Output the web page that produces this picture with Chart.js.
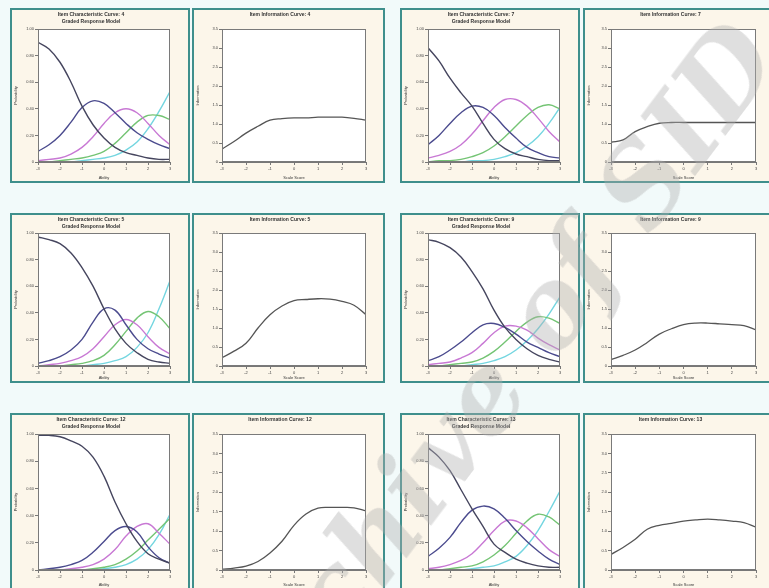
<!DOCTYPE html>
<html>
<head>
<meta charset="utf-8">
<script src="https://cdn.jsdelivr.net/npm/chart.js@4/dist/chart.umd.min.js"></script>
<style>
  body { margin: 0; width: 769px; height: 588px; overflow: hidden; background: #f2fafa; position: relative; font-family: "Liberation Sans", sans-serif; }
  .panel { position: absolute; box-sizing: border-box; border: 2px solid #3f8f8c; background: #fcf6ea; }
  .panel canvas { position: absolute; left: 0; top: 0; }
  #mark { position: absolute; left: 490px; top: 385px; transform: translate(-50%, -50%) rotate(-53deg); font: italic bold 108px "DejaVu Serif", serif; color: rgba(175, 175, 175, 0.4); white-space: nowrap; pointer-events: none; }
</style>
</head>
<body>
<div id="mark">Archive of SID</div>
<script>
// theta grid shared by every panel
const ability = [-3, -2.5, -2, -1.5, -1, -0.5, 0, 0.5, 1, 1.5, 2, 2.5, 3];
const abilityTicks = [-3, -2, -1, 0, 1, 2, 3];
const probTicks = [0, 0.2, 0.4, 0.6, 0.8, 1.0];
const infoTicks = [0, 0.5, 1, 1.5, 2, 2.5, 3, 3.5];

const categoryNames = ["1", "2", "3", "4", "5"];
const categoryColors = ["#45455e", "#4b4b8e", "#c878d4", "#74c474", "#74d6e0"];

// category response curves (5 categories each)
const icc4 = [
  [0.90, 0.85, 0.75, 0.60, 0.42, 0.28, 0.18, 0.11, 0.07, 0.05, 0.03, 0.02, 0.02],
  [0.08, 0.13, 0.20, 0.30, 0.41, 0.46, 0.44, 0.37, 0.29, 0.22, 0.17, 0.13, 0.10],
  [0.01, 0.02, 0.03, 0.06, 0.11, 0.19, 0.29, 0.37, 0.40, 0.37, 0.29, 0.20, 0.13],
  [0.00, 0.00, 0.01, 0.02, 0.03, 0.05, 0.08, 0.14, 0.22, 0.30, 0.35, 0.35, 0.32],
  [0.00, 0.00, 0.00, 0.00, 0.01, 0.02, 0.03, 0.05, 0.09, 0.15, 0.25, 0.38, 0.53]
];
const icc7 = [
  [0.86, 0.76, 0.63, 0.52, 0.42, 0.29, 0.17, 0.10, 0.06, 0.04, 0.02, 0.01, 0.01],
  [0.13, 0.20, 0.29, 0.37, 0.42, 0.41, 0.35, 0.26, 0.18, 0.11, 0.07, 0.04, 0.03],
  [0.03, 0.05, 0.08, 0.13, 0.21, 0.31, 0.41, 0.47, 0.47, 0.42, 0.33, 0.23, 0.15],
  [0.00, 0.01, 0.01, 0.02, 0.04, 0.07, 0.12, 0.19, 0.27, 0.35, 0.41, 0.43, 0.40],
  [0.00, 0.00, 0.00, 0.00, 0.01, 0.01, 0.02, 0.04, 0.07, 0.12, 0.19, 0.29, 0.41]
];
const icc5 = [
  [0.97, 0.95, 0.92, 0.85, 0.74, 0.60, 0.43, 0.28, 0.17, 0.10, 0.05, 0.03, 0.02],
  [0.02, 0.04, 0.07, 0.12, 0.20, 0.33, 0.43, 0.42, 0.31, 0.20, 0.13, 0.09, 0.06],
  [0.00, 0.01, 0.02, 0.04, 0.07, 0.13, 0.22, 0.31, 0.35, 0.31, 0.22, 0.14, 0.09],
  [0.00, 0.00, 0.00, 0.01, 0.02, 0.04, 0.08, 0.16, 0.26, 0.36, 0.41, 0.37, 0.28],
  [0.00, 0.00, 0.00, 0.00, 0.00, 0.01, 0.02, 0.04, 0.07, 0.14, 0.25, 0.43, 0.64]
];
const icc9 = [
  [0.95, 0.93, 0.89, 0.82, 0.71, 0.58, 0.42, 0.29, 0.20, 0.13, 0.08, 0.05, 0.03],
  [0.04, 0.07, 0.12, 0.18, 0.25, 0.31, 0.32, 0.29, 0.24, 0.18, 0.14, 0.10, 0.07],
  [0.01, 0.02, 0.03, 0.06, 0.10, 0.17, 0.25, 0.30, 0.30, 0.27, 0.21, 0.16, 0.12],
  [0.00, 0.00, 0.01, 0.02, 0.03, 0.06, 0.11, 0.18, 0.26, 0.33, 0.37, 0.36, 0.32],
  [0.00, 0.00, 0.00, 0.00, 0.01, 0.02, 0.04, 0.07, 0.12, 0.19, 0.28, 0.39, 0.52]
];
const icc12 = [
  [0.99, 0.99, 0.98, 0.95, 0.91, 0.83, 0.69, 0.50, 0.34, 0.21, 0.12, 0.08, 0.05],
  [0.00, 0.01, 0.02, 0.04, 0.07, 0.13, 0.21, 0.29, 0.32, 0.28, 0.17, 0.09, 0.05],
  [0.00, 0.00, 0.00, 0.01, 0.02, 0.04, 0.08, 0.15, 0.25, 0.32, 0.34, 0.27, 0.19],
  [0.00, 0.00, 0.00, 0.00, 0.00, 0.01, 0.02, 0.04, 0.08, 0.14, 0.22, 0.30, 0.38],
  [0.00, 0.00, 0.00, 0.00, 0.00, 0.00, 0.01, 0.02, 0.04, 0.08, 0.15, 0.26, 0.41]
];
const icc13 = [
  [0.90, 0.83, 0.73, 0.59, 0.45, 0.32, 0.19, 0.13, 0.08, 0.05, 0.03, 0.02, 0.02],
  [0.10, 0.16, 0.24, 0.35, 0.44, 0.47, 0.45, 0.38, 0.29, 0.21, 0.14, 0.08, 0.04],
  [0.01, 0.02, 0.04, 0.07, 0.12, 0.20, 0.29, 0.36, 0.36, 0.31, 0.23, 0.15, 0.10],
  [0.00, 0.00, 0.01, 0.02, 0.03, 0.06, 0.11, 0.18, 0.27, 0.36, 0.41, 0.39, 0.33],
  [0.00, 0.00, 0.00, 0.00, 0.01, 0.02, 0.03, 0.06, 0.10, 0.18, 0.29, 0.43, 0.58]
];

// item information
const info4 = [0.34, 0.54, 0.76, 0.94, 1.10, 1.14, 1.16, 1.16, 1.18, 1.18, 1.18, 1.15, 1.10];
const info7 = [0.52, 0.58, 0.80, 0.93, 1.02, 1.04, 1.04, 1.04, 1.04, 1.04, 1.04, 1.04, 1.04];
const info5 = [0.22, 0.39, 0.60, 1.00, 1.35, 1.58, 1.72, 1.75, 1.77, 1.76, 1.70, 1.60, 1.35];
const info9 = [0.17, 0.28, 0.42, 0.62, 0.84, 0.98, 1.09, 1.13, 1.13, 1.11, 1.09, 1.06, 0.95];
const info12 = [0.02, 0.05, 0.10, 0.22, 0.44, 0.74, 1.15, 1.44, 1.59, 1.61, 1.61, 1.60, 1.52];
const info13 = [0.40, 0.58, 0.79, 1.05, 1.15, 1.20, 1.26, 1.29, 1.31, 1.29, 1.26, 1.22, 1.10];

const rows = [
  { top: 8, h: 175, padT: 21, padB: 21 },
  { top: 213, h: 170, padT: 20, padB: 17 },
  { top: 413, h: 177, padT: 21, padB: 20 }
];
const cols = [
  { left: 10, w: 180, padL: 28, padR: 20 },
  { left: 192, w: 193, padL: 30, padR: 19 },
  { left: 400, w: 180, padL: 28, padR: 20 },
  { left: 583, w: 188, padL: 28, padR: 15 }
];

const panels = [
  { r: 0, c: 0, kind: "icc", item: 4, data: icc4 },
  { r: 0, c: 1, kind: "info", item: 4, data: info4 },
  { r: 0, c: 2, kind: "icc", item: 7, data: icc7 },
  { r: 0, c: 3, kind: "info", item: 7, data: info7 },
  { r: 1, c: 0, kind: "icc", item: 5, data: icc5 },
  { r: 1, c: 1, kind: "info", item: 5, data: info5 },
  { r: 1, c: 2, kind: "icc", item: 9, data: icc9 },
  { r: 1, c: 3, kind: "info", item: 9, data: info9 },
  { r: 2, c: 0, kind: "icc", item: 12, data: icc12 },
  { r: 2, c: 1, kind: "info", item: 12, data: info12 },
  { r: 2, c: 2, kind: "icc", item: 13, data: icc13 },
  { r: 2, c: 3, kind: "info", item: 13, data: info13 }
];

const plotBox = {
  id: "plotBox",
  beforeDraw(chart) {
    const a = chart.chartArea, ctx = chart.ctx;
    ctx.save();
    ctx.fillStyle = "#ffffff";
    ctx.fillRect(a.left, a.top, a.right - a.left, a.bottom - a.top);
    ctx.restore();
  },
  afterDraw(chart) {
    const a = chart.chartArea, ctx = chart.ctx;
    ctx.save();
    ctx.strokeStyle = "#7a7a7a";
    ctx.lineWidth = 1;
    ctx.strokeRect(a.left + 0.5, a.top + 0.5, a.right - a.left - 1, a.bottom - a.top - 1);
    ctx.restore();
  }
};

function tickFont() { return { size: 4, family: "Liberation Sans" }; }

function makeChart(p) {
  const row = rows[p.r], col = cols[p.c];
  const div = document.createElement("div");
  div.className = "panel";
  div.style.left = col.left + "px";
  div.style.top = row.top + "px";
  div.style.width = col.w + "px";
  div.style.height = row.h + "px";
  document.body.insertBefore(div, document.getElementById("mark"));
  const canvas = document.createElement("canvas");
  canvas.width = col.w - 4;
  canvas.height = row.h - 4;
  div.appendChild(canvas);

  const isIcc = p.kind === "icc";
  const topSpace = row.padT - 2;
  let datasets;
  if (isIcc) {
    datasets = p.data.map((vals, i) => ({
      label: categoryNames[i],
      data: ability.map((x, j) => ({ x: x, y: vals[j] })),
      borderColor: categoryColors[i],
      borderWidth: 1.4,
      pointRadius: 0,
      tension: 0.4
    }));
  } else {
    datasets = [{
      label: "Information",
      data: ability.map((x, j) => ({ x: x, y: p.data[j] })),
      borderColor: "#555555",
      borderWidth: 1.3,
      pointRadius: 0,
      tension: 0.4
    }];
  }

  const yTicks = isIcc ? probTicks : infoTicks;
  new Chart(canvas, {
    type: "line",
    data: { datasets: datasets },
    plugins: [plotBox],
    options: {
      responsive: false,
      animation: false,
      layout: { padding: { left: 0, right: col.padR - 2, top: 0, bottom: 0 } },
      plugins: {
        legend: { display: false },
        tooltip: { enabled: false },
        title: {
          display: true,
          text: (isIcc ? "Item Characteristic Curve: " : "Item Information Curve: ") + p.item,
          color: "#333",
          font: { size: 5, weight: "bold", family: "Liberation Sans" },
          padding: isIcc ? { top: 2, bottom: 1 } : { top: 2, bottom: topSpace - 8 }
        },
        subtitle: {
          display: isIcc,
          text: "Graded Response Model",
          color: "#333",
          font: { size: 5, weight: "bold", family: "Liberation Sans" },
          padding: { top: 0, bottom: topSpace - 15 }
        }
      },
      scales: {
        x: {
          type: "linear",
          min: -3,
          max: 3,
          afterBuildTicks: s => { s.ticks = abilityTicks.map(v => ({ value: v })); },
          afterFit: s => { s.height = row.padB - 2; },
          ticks: { font: tickFont(), color: "#444", padding: 1, maxRotation: 0 },
          grid: { drawOnChartArea: false, tickLength: 3, color: "#777" },
          border: { color: "#777" },
          title: { display: true, text: isIcc ? "Ability" : "Scale Score", font: tickFont(), color: "#333", padding: 1 }
        },
        y: {
          min: 0,
          max: isIcc ? 1 : 3.5,
          afterBuildTicks: s => { s.ticks = yTicks.map(v => ({ value: v })); },
          afterFit: s => { s.width = col.padL - 2; },
          ticks: {
            font: tickFont(), color: "#444", padding: 1,
            callback: v => v === 0 ? "0" : (isIcc ? v.toFixed(2) : v.toFixed(1))
          },
          grid: { drawOnChartArea: false, tickLength: 3, color: "#777" },
          border: { color: "#777" },
          title: { display: true, text: isIcc ? "Probability" : "Information", font: tickFont(), color: "#333", padding: 1 }
        }
      }
    }
  });
}

panels.forEach(makeChart);
</script>
</body>
</html>
